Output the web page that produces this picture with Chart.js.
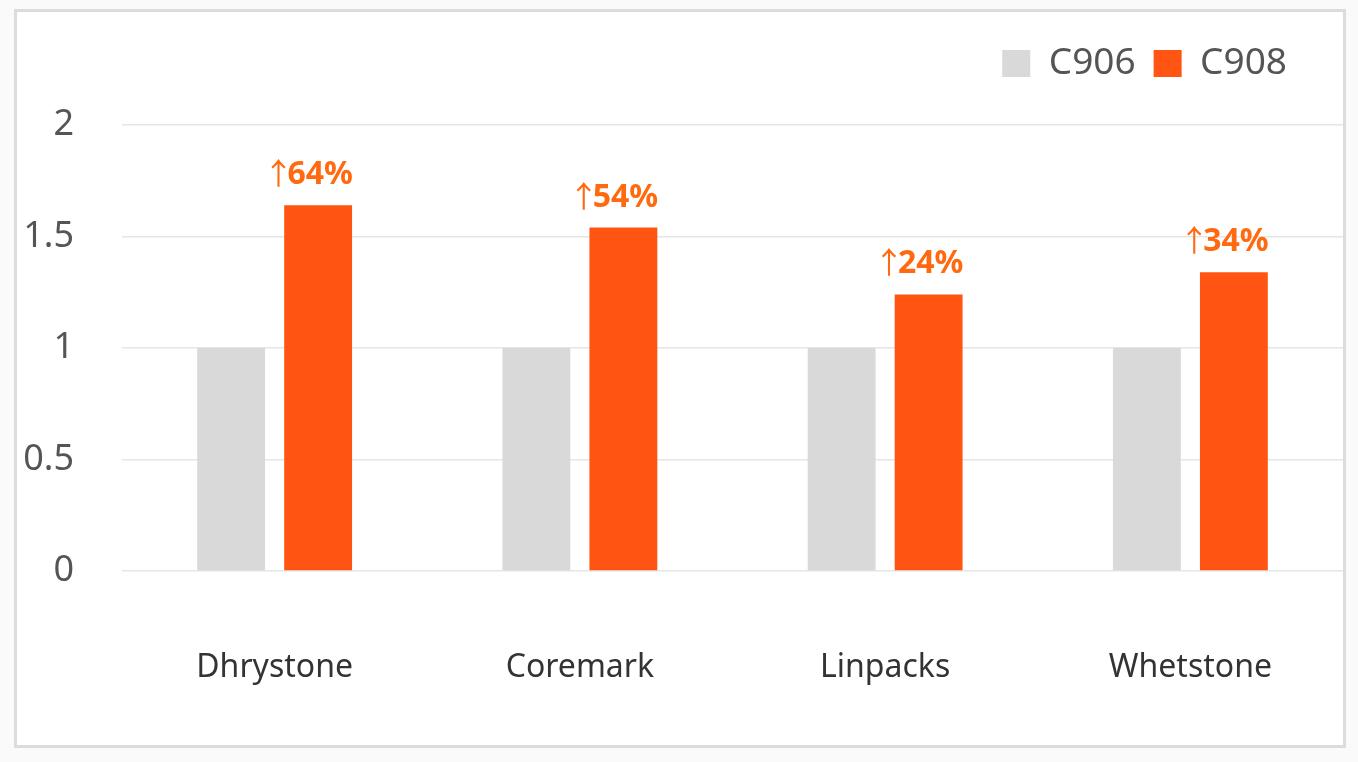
<!DOCTYPE html>
<html>
<head>
<meta charset="utf-8">
<script src="https://cdn.jsdelivr.net/npm/chart.js@4.4.1/dist/chart.umd.min.js"></script>
<style>
  html, body { margin: 0; padding: 0; background: #fafafa; }
  #box {
    position: absolute; left: 14px; top: 9px;
    width: 1326px; height: 733px;
    border: 3px solid #dcdcdc; background: #fff;
  }
  #chart { position: absolute; left: 0; top: 0; }
</style>
</head>
<body>
<div id="box"><canvas id="chart" width="1326" height="733"></canvas></div>
<script>
// données
const categories = ['Dhrystone', 'Coremark', 'Linpacks', 'Whetstone'];
const c906 = [1, 1, 1, 1];
const c908 = [1.64, 1.54, 1.24, 1.34];
const gains = ['64%', '54%', '24%', '34%'];
const yTicks = [0, 0.5, 1, 1.5, 2];

const FONT = '"Noto Sans", "Open Sans", sans-serif';
const ARROW_FONT = '30px "Noto Sans CJK SC", sans-serif';

// étiquettes "↑xx%" au-dessus des barres C908
const gainLabels = {
  id: 'gainLabels',
  afterDatasetsDraw(chart) {
    const meta = chart.getDatasetMeta(1);
    const ctx = chart.ctx;
    ctx.save();
    ctx.fillStyle = '#ff6a10';
    ctx.textBaseline = 'alphabetic';
    meta.data.forEach((bar, i) => {
      ctx.font = 'bold 32px ' + FONT;
      const wt = ctx.measureText(gains[i]).width;
      const aw = 16; // largeur visible de la flèche
      const left = bar.x - 6 - (aw + wt) / 2;
      const y = bar.y - 21;
      ctx.textAlign = 'left';
      ctx.fillText(gains[i], left + aw, y);
      ctx.font = ARROW_FONT;
      ctx.textAlign = 'center';
      ctx.fillText('↑', left + aw / 2 - 1, y);
    });
    ctx.restore();
  }
};

// légende : hauteur fixe et décalage
const legendPos = {
  id: 'legendPos',
  beforeInit(chart) {
    const fit = chart.legend.fit;
    chart.legend.fit = function () {
      fit.bind(chart.legend)();
      this.height = 113;
    };
  },
  afterLayout(chart) {
    chart.legend.top += 15;
    chart.legend.right -= 38;
  }
};

new Chart(document.getElementById('chart'), {
  type: 'bar',
  data: {
    labels: categories,
    datasets: [
      {
        label: 'C906',
        data: c906,
        backgroundColor: '#d9d9d9',
        categoryPercentage: 0.57,
        barPercentage: 0.78
      },
      {
        label: 'C908',
        data: c908,
        backgroundColor: '#ff5412',
        categoryPercentage: 0.57,
        barPercentage: 0.78
      }
    ]
  },
  options: {
    responsive: false,
    animation: false,
    plugins: {
      legend: {
        position: 'top',
        align: 'end',
        labels: {
          boxWidth: 28,
          boxHeight: 27,
          padding: 18,
          color: '#555',
          font: { family: FONT, size: 37 }
        }
      },
      tooltip: { enabled: false }
    },
    scales: {
      x: {
        grid: { display: false },
        border: { display: false },
        ticks: {
          color: '#333',
          padding: 70,
          font: { family: FONT, size: 32 }
        },
        afterFit(s) { s.height = 174; }
      },
      y: {
        min: 0,
        max: 2,
        afterBuildTicks(s) { s.ticks = yTicks.map(v => ({ value: v })); },
        grid: { color: '#e6e6e6', lineWidth: 1.5, drawTicks: false },
        border: { display: false },
        ticks: {
          color: '#555',
          padding: 48,
          font: { family: FONT, size: 36 },
          callback: v => String(v)
        },
        afterFit(s) { s.width = 105; }
      }
    }
  },
  plugins: [legendPos, gainLabels]
});
</script>
</body>
</html>
